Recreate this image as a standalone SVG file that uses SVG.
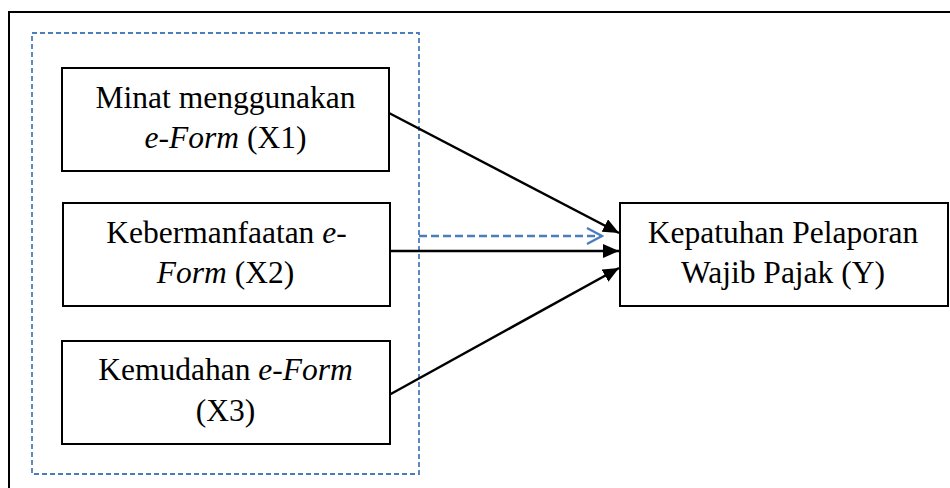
<svg xmlns="http://www.w3.org/2000/svg" width="950" height="488" viewBox="0 0 950 488">
  <style>
    .box { fill: #ffffff; stroke: #000000; stroke-width: 2; }
    .lbl { font-family: "Liberation Serif", "Times New Roman", serif; font-size: 31.5px; fill: #000000; text-anchor: middle; }
    .it { font-style: italic; }
    .edge { stroke: #000000; stroke-width: 2.5; fill: none; }
    .dash { stroke: #4a7ebb; stroke-width: 2.4; fill: none; stroke-dasharray: 8 4; }
  </style>
  <defs>
    <marker id="tri" viewBox="0 0 16 14" refX="16" refY="7" markerWidth="16" markerHeight="14" markerUnits="userSpaceOnUse" orient="auto">
      <path d="M0,0 L16,7 L0,14 Z" fill="#000000"/>
    </marker>
    <marker id="chev" viewBox="0 0 20 20" refX="18" refY="10" markerWidth="20" markerHeight="20" markerUnits="userSpaceOnUse" orient="auto">
      <path d="M3,2 L18,10 L3,18" fill="none" stroke="#4a7ebb" stroke-width="2.5"/>
    </marker>
  </defs>

  <rect width="950" height="488" fill="#ffffff"/>

  <!-- outer frame -->
  <rect x="9" y="12" width="960" height="500" fill="none" stroke="#000000" stroke-width="2"/>

  <!-- dashed grouping of the independent variables -->
  <rect id="group-x" x="32" y="33" width="387" height="441" fill="none" stroke="#4a7ebb" stroke-width="1.8" stroke-dasharray="5 3"/>

  <g id="connectors">
    <line class="edge" x1="389" y1="113" x2="619" y2="233" marker-end="url(#tri)"/>
    <line class="edge" x1="390" y1="251" x2="619" y2="251" marker-end="url(#tri)"/>
    <line class="edge" x1="389" y1="395" x2="619" y2="268" marker-end="url(#tri)"/>
    <line class="dash" x1="419" y1="236" x2="602" y2="236" marker-end="url(#chev)"/>
  </g>

  <g id="x1">
    <rect class="box" x="62" y="68" width="327" height="103"/>
    <text class="lbl" x="225.5" y="108">Minat menggunakan</text>
    <text class="lbl" x="225.5" y="148"><tspan class="it">e-Form</tspan> (X1)</text>
  </g>

  <g id="x2">
    <rect class="box" x="63" y="203" width="327" height="103"/>
    <text class="lbl" x="226.5" y="243">Kebermanfaatan <tspan class="it">e-</tspan></text>
    <text class="lbl" x="225.5" y="283"><tspan class="it">Form</tspan> (X2)</text>
  </g>

  <g id="x3">
    <rect class="box" x="62" y="341" width="328" height="103"/>
    <text class="lbl" x="225.5" y="380">Kemudahan <tspan class="it">e-Form</tspan></text>
    <text class="lbl" x="225.5" y="421">(X3)</text>
  </g>

  <g id="y">
    <rect class="box" x="620" y="203" width="328" height="103"/>
    <text class="lbl" x="783" y="243">Kepatuhan Pelaporan</text>
    <text class="lbl" x="783" y="283">Wajib Pajak (Y)</text>
  </g>
</svg>
